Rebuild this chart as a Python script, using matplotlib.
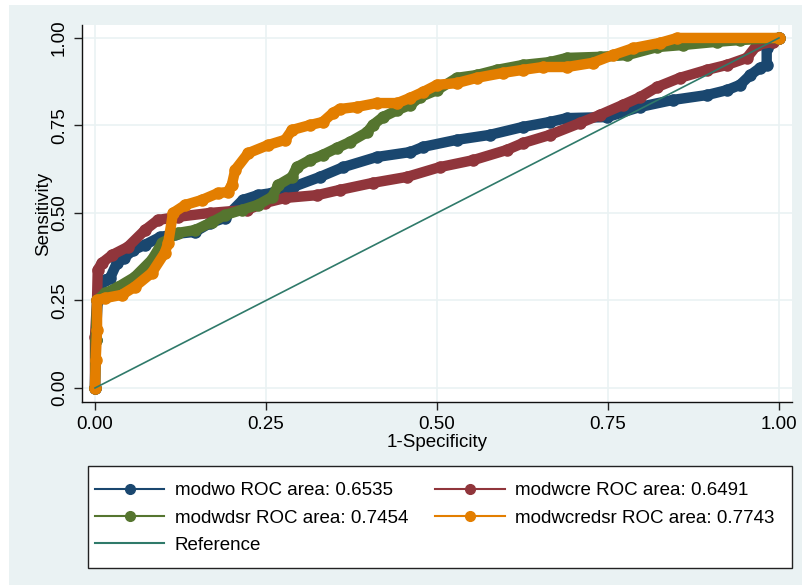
import matplotlib.pyplot as plt
from matplotlib.lines import Line2D
from matplotlib.patches import Rectangle

plt.rcParams['font.family'] = ['Liberation Sans', 'DejaVu Sans']

# ROC curve points (1-specificity, sensitivity)
modwo_x = [0, 0.001, 0.004, 0.007, 0.015, 0.022, 0.032, 0.042, 0.056, 0.073, 0.095, 0.117,
           0.146, 0.168, 0.190, 0.216, 0.238, 0.259, 0.289, 0.329, 0.363, 0.412, 0.461,
           0.480, 0.529, 0.577, 0.626, 0.665, 0.690, 0.749, 0.797, 0.845, 0.895, 0.924,
           0.943, 0.958, 0.972, 0.982, 0.982, 1.0]
modwo_y = [0, 0.137, 0.251, 0.294, 0.309, 0.314, 0.357, 0.371, 0.394, 0.409, 0.431, 0.440,
           0.446, 0.471, 0.486, 0.537, 0.551, 0.557, 0.574, 0.603, 0.631, 0.660, 0.674,
           0.689, 0.709, 0.723, 0.746, 0.760, 0.771, 0.774, 0.803, 0.823, 0.837, 0.851,
           0.866, 0.894, 0.914, 0.923, 0.971, 1.0]

modwcre_x = [0, 0, 0.003, 0.004, 0.010, 0.025, 0.048, 0.073, 0.092, 0.121, 0.168, 0.222,
             0.249, 0.278, 0.325, 0.358, 0.406, 0.456, 0.504, 0.553, 0.602, 0.626, 0.665,
             0.709, 0.738, 0.772, 0.797, 0.822, 0.855, 0.895, 0.924, 0.953, 0.968, 0.991, 1.0]
modwcre_y = [0, 0.146, 0.251, 0.337, 0.357, 0.380, 0.403, 0.451, 0.480, 0.489, 0.500, 0.509,
             0.529, 0.543, 0.551, 0.566, 0.586, 0.603, 0.631, 0.651, 0.680, 0.700, 0.723,
             0.757, 0.780, 0.809, 0.831, 0.860, 0.886, 0.909, 0.923, 0.943, 0.980, 0.989, 1.0]

modwdsr_x = [0, 0.001, 0.003, 0.015, 0.034, 0.058, 0.083, 0.098, 0.121, 0.146, 0.171, 0.190,
             0.215, 0.238, 0.259, 0.268, 0.288, 0.295, 0.314, 0.333, 0.354, 0.373, 0.398,
             0.406, 0.421, 0.442, 0.461, 0.475, 0.500, 0.529, 0.558, 0.588, 0.626, 0.665,
             0.690, 0.738, 0.778, 0.822, 0.860, 0.909, 0.943, 1.0]
modwdsr_y = [0, 0.137, 0.251, 0.271, 0.289, 0.317, 0.366, 0.414, 0.443, 0.451, 0.474, 0.494,
             0.509, 0.523, 0.546, 0.580, 0.603, 0.631, 0.651, 0.666, 0.686, 0.703, 0.731,
             0.751, 0.774, 0.794, 0.809, 0.831, 0.851, 0.886, 0.894, 0.909, 0.923, 0.931,
             0.943, 0.946, 0.951, 0.974, 0.980, 0.989, 0.994, 1.0]

modwcredsr_x = [0, 0.001, 0.003, 0.003, 0.015, 0.039, 0.058, 0.083, 0.102, 0.107, 0.114,
                0.132, 0.156, 0.180, 0.194, 0.200, 0.205, 0.224, 0.253, 0.278, 0.288, 0.314,
                0.333, 0.348, 0.358, 0.383, 0.412, 0.442, 0.461, 0.480, 0.500, 0.529, 0.558,
                0.596, 0.626, 0.655, 0.690, 0.728, 0.757, 0.787, 0.826, 0.851, 1.0]
modwcredsr_y = [0, 0.08, 0.166, 0.251, 0.257, 0.266, 0.289, 0.329, 0.386, 0.414, 0.500,
                0.523, 0.537, 0.557, 0.560, 0.580, 0.623, 0.671, 0.694, 0.709, 0.737, 0.751,
                0.760, 0.786, 0.797, 0.803, 0.814, 0.814, 0.829, 0.846, 0.866, 0.871, 0.886,
                0.900, 0.909, 0.917, 0.917, 0.929, 0.951, 0.971, 0.986, 1.0, 1.0]

labels = ['modwo ROC area: 0.6535', 'modwcre ROC area: 0.6491',
          'modwdsr ROC area: 0.7454', 'modwcredsr ROC area: 0.7743', 'Reference']
ticks = [0, 0.25, 0.5, 0.75, 1.0]
tick_labels = ['0.00', '0.25', '0.50', '0.75', '1.00']

colors = ['#1a476f', '#90353b', '#55752f', '#e37e00']
ref_color = '#2f7a6a'
bg = '#eaf2f3'
fs = 13.5

fig = plt.figure(figsize=(8.03, 5.85), dpi=100)
fig.patches.append(Rectangle((9 / 803, 0), 1, 1 - 5 / 585, transform=fig.transFigure,
                             facecolor=bg, edgecolor='none', zorder=-10))
# legend box
fig.patches.append(Rectangle((88 / 803, 1 - 568 / 585), 704 / 803, 102 / 585,
                             transform=fig.transFigure, facecolor='white',
                             edgecolor='#222222', lw=1, zorder=-5))

ax = fig.add_axes([82 / 803, 1 - 402 / 585, 710 / 803, 377 / 585])
ax.set_facecolor('white')

curves = [(modwo_x, modwo_y), (modwcre_x, modwcre_y),
          (modwdsr_x, modwdsr_y), (modwcredsr_x, modwcredsr_y)]
for (xs, ys), c in zip(curves, colors):
    ax.plot(xs, ys, color=c, lw=7.5, solid_joinstyle='round', solid_capstyle='round',
            marker='o', ms=8, mec=c, mfc=c, zorder=3)

ax.plot([0, 1], [0, 1], color=ref_color, lw=1.2, zorder=4)

ax.set_xlim(-0.019, 1.019)
ax.set_ylim(-0.04, 1.037)
ax.set_xticks(ticks)
ax.set_xticklabels(tick_labels, fontsize=fs)
ax.set_yticks(ticks)
ax.set_yticklabels(tick_labels, fontsize=fs, rotation=90, va='center')
ax.tick_params(direction='out', length=6, width=1, color='#222222', pad=4)
ax.grid(True, color=bg, lw=1.2, zorder=0)
ax.set_axisbelow(True)
for s in ['top', 'right']:
    ax.spines[s].set_visible(False)
for s in ['left', 'bottom']:
    ax.spines[s].set_color('#111111')
    ax.spines[s].set_linewidth(1)

ax.set_xlabel('1-Specificity', fontsize=fs, labelpad=1)
ax.set_ylabel('Sensitivity', fontsize=fs, labelpad=-1)

handles = [Line2D([], [], color=c, lw=1.5, marker='o', ms=7) for c in colors]
handles.append(Line2D([], [], color=ref_color, lw=1.5))
order = [0, 2, 4, 1, 3]
leg = fig.legend([handles[i] for i in order], [labels[i] for i in order],
                 loc='upper left', bbox_to_anchor=(95 / 803, 1 - 482 / 585),
                 ncol=2, fontsize=fs, frameon=False, numpoints=1,
                 handlelength=3.7, handletextpad=0.55, labelspacing=0.55,
                 columnspacing=1.45, borderaxespad=0, borderpad=0)

fig.savefig('out.png', dpi=100)
